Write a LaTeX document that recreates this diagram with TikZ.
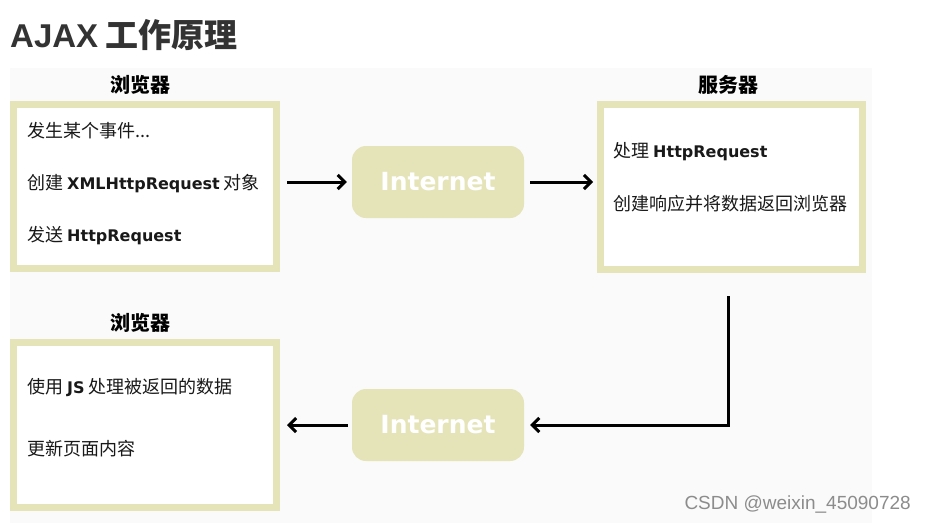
\documentclass[tikz,border=0pt]{standalone}
\usepackage{fontspec}
\setmainfont{Noto Sans CJK SC}
\newfontfamily\latb{DejaVu Sans}
\newfontfamily\arialf{Liberation Sans}
\usetikzlibrary{arrows.meta}
\definecolor{boxc}{RGB}{229,228,184}
\definecolor{bgc}{RGB}{250,250,250}
\definecolor{titc}{RGB}{51,51,51}
\definecolor{txtc}{RGB}{25,25,25}
\tikzset{
  panel/.style={draw=boxc, line width=7pt, fill=white, inner sep=0pt},
  netbox/.style={fill=boxc, rounded corners=14pt, minimum width=172pt, minimum height=72pt, inner sep=0pt,
    text=white, font=\latb\fontsize{25}{25}\selectfont\bfseries},
  head/.style={font=\fontsize{20}{20}\selectfont\bfseries, text=black, inner sep=0pt},
  line/.style={anchor=west, inner sep=0pt, text=txtc, font=\fontsize{18}{18}\selectfont},
  arr/.style={line width=3pt, -{Straight Barb[length=7pt,width=14pt,line width=3pt]}},
}
\newcommand{\bl}[1]{{\latb\fontsize{16}{16}\selectfont\bfseries #1}}
\begin{document}
\begin{tikzpicture}[x=1pt,y=-1pt]
\useasboundingbox (0,0) rectangle (926,523);
\fill[white] (0,0) rectangle (926,523);
\fill[bgc] (10,68) rectangle (872,523);
% title
\node[anchor=west, inner sep=0pt, text=titc, font=\fontsize{33}{33}\selectfont\bfseries] (title) at (10,35)
  {{\arialf AJAX} 工作原理};
% top browser
\node[panel, minimum width=263pt, minimum height=164pt] (b1) at (145,186.5) {};
\node[head] (lb1) at (140,85) {浏览器};
\node[line] (t11) at (27,131) {发生某个事件...};
\node[line] (t12) at (27,184) {创建 \bl{XMLHttpRequest} 对象};
\node[line] (t13) at (27,236) {发送 \bl{HttpRequest}};
% internet 1
\node[netbox] (i1) at (438,182) {Internet};
% server
\node[panel, minimum width=262pt, minimum height=165pt] (s) at (731.5,187) {};
\node[head] (ls) at (728,85) {服务器};
\node[line] (s1) at (613,152) {处理 \bl{HttpRequest}};
\node[line] (s2) at (613,204) {创建响应并将数据返回浏览器};
% bottom browser
\node[panel, minimum width=263pt, minimum height=165pt] (b2) at (145,425) {};
\node[head] (lb2) at (140,323) {浏览器};
\node[line] (t21) at (27,387) {使用 \bl{JS} 处理被返回的数据};
\node[line] (t22) at (27,449) {更新页面内容};
% internet 2
\node[netbox] (i2) at (438,425) {Internet};
% connectors
\coordinate (c1) at (728,296);
\draw[arr, shorten <=7pt, shorten >=5pt] (b1.east |- i1.west) -- (i1.west);
\draw[arr, shorten <=6pt, shorten >=4pt] (i1.east) -- (s.west |- i1.east);
\draw[arr, shorten >=6pt] (c1) |- (i2.east);
\draw[arr, shorten <=4pt, shorten >=7pt] (i2.west) -- (b2.east |- i2.west);
% watermark
\node[anchor=east, inner sep=0pt, text=black!45, font=\arialf\fontsize{19}{19}\selectfont] (wm) at (911,504) {CSDN @weixin\_45090728};
\end{tikzpicture}
\end{document}
